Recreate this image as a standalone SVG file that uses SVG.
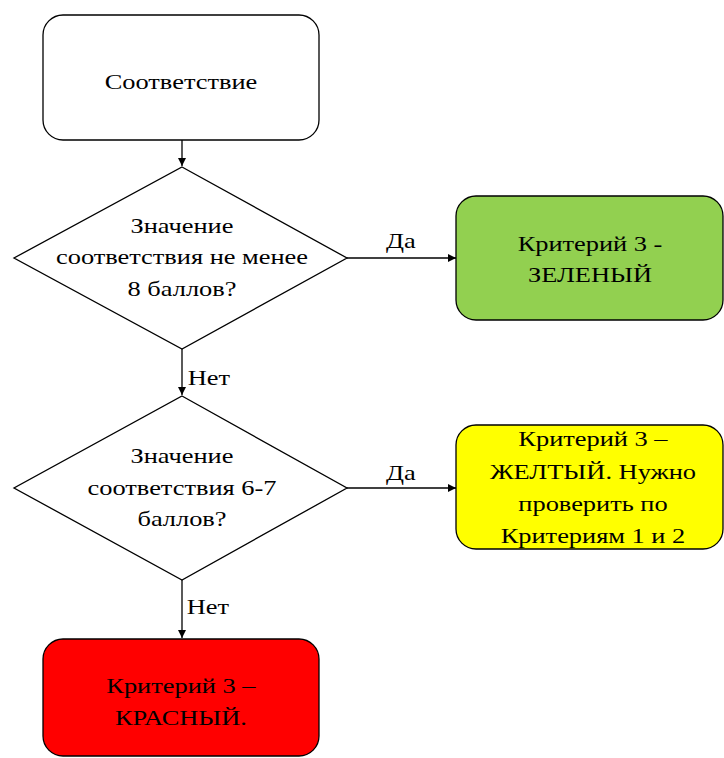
<svg xmlns="http://www.w3.org/2000/svg" width="724" height="758" viewBox="0 0 724 758">
<style>
text{font-family:"Liberation Serif","Times New Roman",serif;font-size:22px;fill:#000;text-anchor:middle;dominant-baseline:central;transform-box:fill-box;transform-origin:center;transform:scaleX(1.2)}
.lbl{text-anchor:start}
.shape{stroke:#000;stroke-width:1.3}
.conn{stroke:#000;stroke-width:1.3;fill:none;marker-end:url(#ah)}
</style>
<defs>
<marker id="ah" viewBox="0 0 10 10" refX="10" refY="5" markerWidth="8" markerHeight="8" markerUnits="userSpaceOnUse" orient="auto">
<path d="M0,0 L10,5 L0,10 z" fill="#000"/>
</marker>
</defs>
<rect width="724" height="758" fill="#fff"/>
<g id="start">
<rect class="shape" x="43" y="15" width="276" height="125" rx="20" fill="#fff"/>
<text x="181" y="81">Соответствие</text>
</g>
<g id="decision1">
<polygon class="shape" points="182,167 347,258 182,349 14,258" fill="#fff"/>
<text x="182" y="225">Значение</text>
<text x="182" y="256">соответствия не менее</text>
<text x="182" y="288">8 баллов?</text>
</g>
<g id="green">
<rect class="shape" x="456" y="196" width="267" height="124" rx="20" fill="#92D050"/>
<text x="590" y="243">Критерий 3 -</text>
<text x="590" y="274">ЗЕЛЕНЫЙ</text>
</g>
<g id="decision2">
<polygon class="shape" points="182,396 347,488 182,580 14,488" fill="#fff"/>
<text x="182" y="455">Значение</text>
<text x="182" y="487">соответствия 6-7</text>
<text x="182" y="518">баллов?</text>
</g>
<g id="yellow">
<rect class="shape" x="456" y="425" width="267" height="124" rx="20" fill="#FFFF00"/>
<text x="593" y="438">Критерий 3 –</text>
<text x="593" y="471">ЖЕЛТЫЙ. Нужно</text>
<text x="593" y="503">проверить по</text>
<text x="593" y="535">Критериям 1 и 2</text>
</g>
<g id="red">
<rect class="shape" x="43" y="639" width="276" height="117" rx="20" fill="#FF0000"/>
<text x="181" y="685">Критерий 3 –</text>
<text x="181" y="717">КРАСНЫЙ.</text>
</g>
<g id="connectors">
<line class="conn" x1="182" y1="140" x2="182" y2="166"/>
<line class="conn" x1="347" y1="258" x2="456" y2="258"/>
<line class="conn" x1="182" y1="349" x2="182" y2="395"/>
<line class="conn" x1="347" y1="488" x2="456" y2="488"/>
<line class="conn" x1="182" y1="580" x2="182" y2="638"/>
<text x="401" y="240">Да</text>
<text x="209" y="377">Нет</text>
<text x="401" y="472">Да</text>
<text x="208" y="606">Нет</text>
</g>
</svg>
